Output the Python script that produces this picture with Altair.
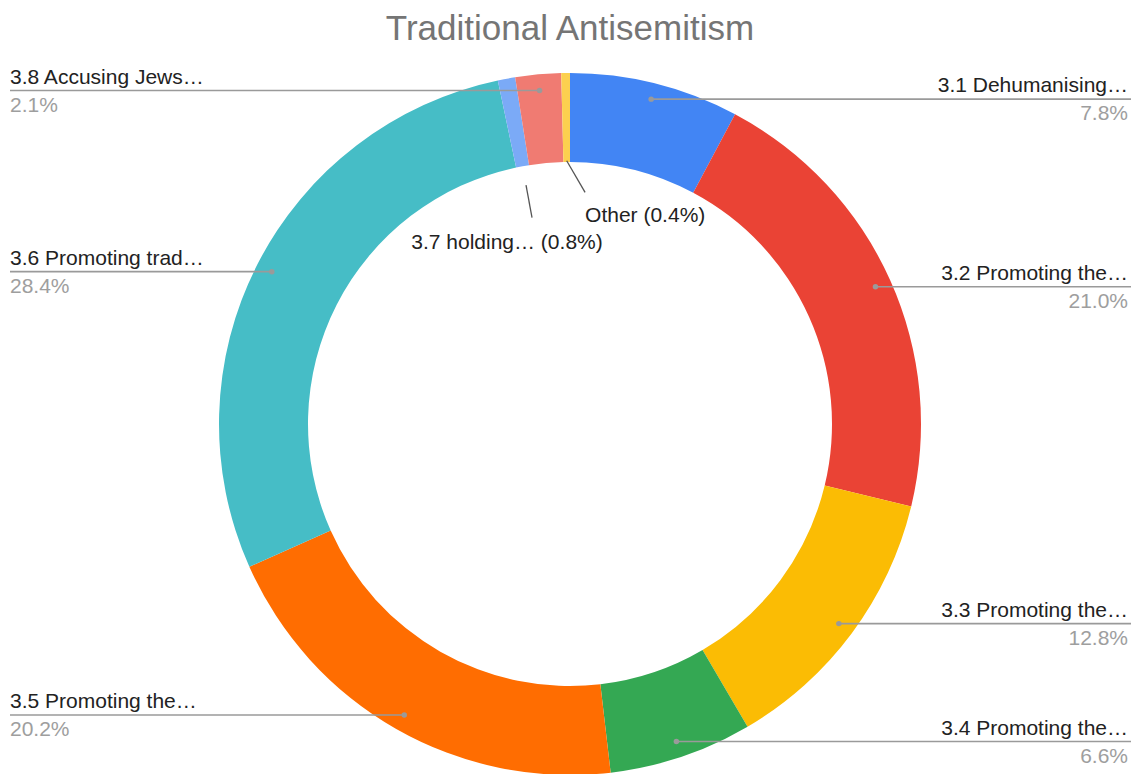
import altair as alt
import pandas as pd

# ---- data ----
title_text = "Traditional Antisemitism"
labels = [
    "3.1 Dehumanising…",
    "3.2 Promoting the…",
    "3.3 Promoting the…",
    "3.4 Promoting the…",
    "3.5 Promoting the…",
    "3.6 Promoting trad…",
    "3.7 holding…",
    "3.8 Accusing Jews…",
    "Other",
]
values = [7.8, 21.0, 12.8, 6.6, 20.2, 28.4, 0.8, 2.1, 0.4]
colors = ["#4285F4", "#EA4335", "#FBBC04", "#34A853", "#FF6D01",
          "#46BDC6", "#7BAAF7", "#F07B72", "#FCD04F"]

df = pd.DataFrame({"name": labels, "value": values, "order": list(range(len(labels)))})

# ---- layout ----
W, H = 1137, 774
CX, CY = 570, 424
R_OUT, R_IN = 351, 262
FONT = "Liberation Sans"
FS = 21

xs = alt.Scale(domain=[-CX / R_OUT, (W - CX) / R_OUT], range=[0, W], zero=False, nice=False)
ys = alt.Scale(domain=[-(H - CY) / R_OUT, CY / R_OUT], range=[H, 0], zero=False, nice=False)
L_EDGE = (10 - CX) / R_OUT
R_EDGE = (1131 - CX) / R_OUT

arc = alt.Chart(df).mark_arc(radius=R_OUT, radius2=R_IN, stroke=None).encode(
    theta=alt.Theta("value:Q", stack=True),
    order=alt.Order("order:Q"),
    color=alt.Color("name:N", scale=alt.Scale(domain=labels, range=colors), legend=None),
    x=alt.value(CX),
    y=alt.value(CY),
)

title = alt.Chart(df).mark_text(
    font=FONT, fontSize=35, color="#757575", align="center", baseline="alphabetic"
).encode(x=alt.value(CX), y=alt.value(40), text=alt.value(title_text)).transform_filter(
    "datum.order == 0"
)

base = (
    alt.Chart(df)
    .transform_window(cum="sum(value)", sort=[alt.SortField("order")], frame=[None, 0])
    .transform_joinaggregate(total="sum(value)")
    .transform_calculate(
        mid="2*PI*(datum.cum - datum.value/2)/datum.total",
        pct="format(datum.value, '.1f') + '%'",
    )
    .transform_calculate(
        s="sin(datum.mid)",
        c="cos(datum.mid)",
    )
    .transform_calculate(
        dx="datum.s*0.954",
        dy="datum.c*0.954",
        edge=f"datum.s > 0 ? {R_EDGE} : {L_EDGE}",
        inner="datum.value < 1",
        ilabel="datum.name + '  (' + datum.pct + ')'",
    )
)

outside = base.transform_filter("!datum.inner")
X = alt.X("dx:Q", scale=xs, axis=None)
Y = alt.Y("dy:Q", scale=ys, axis=None)

rules = outside.mark_rule(color="#9a9a9a", strokeWidth=1.6).encode(
    x=X, x2="edge:Q", y=Y
)
dots = outside.mark_circle(color="#9a9a9a", opacity=1, size=30).encode(x=X, y=Y)

right = outside.transform_filter("datum.s > 0")
left = outside.transform_filter("datum.s <= 0")
XE = alt.X("edge:Q", scale=xs, axis=None)

r_name = right.mark_text(align="right", baseline="alphabetic", dx=-3, dy=-7,
                         font=FONT, fontSize=FS, color="#222222").encode(x=XE, y=Y, text="name:N")
r_pct = right.mark_text(align="right", baseline="alphabetic", dx=-3, dy=21,
                        font=FONT, fontSize=FS, color="#9e9e9e").encode(x=XE, y=Y, text="pct:N")
l_name = left.mark_text(align="left", baseline="alphabetic", dx=0, dy=-7,
                        font=FONT, fontSize=FS, color="#222222").encode(x=XE, y=Y, text="name:N")
l_pct = left.mark_text(align="left", baseline="alphabetic", dx=0, dy=21,
                       font=FONT, fontSize=FS, color="#9e9e9e").encode(x=XE, y=Y, text="pct:N")

# ---- small slices labelled inside the hole ----
inner = base.transform_filter("datum.inner")
in_left = inner.transform_filter("datum.s <= -0.05").transform_calculate(
    x1="datum.s*0.692", y1="datum.c*0.692", x2="datum.s*0.598", y2="datum.c*0.598"
)
in_right = inner.transform_filter("datum.s > -0.05").transform_calculate(
    x1="datum.s*0.75", y1="datum.c*0.75", x2="datum.s*0.66", y2="datum.c*0.66"
)

il_rule = in_left.mark_rule(color="#555555", strokeWidth=1.3).encode(
    x=alt.X("x1:Q", scale=xs, axis=None), y=alt.Y("y1:Q", scale=ys, axis=None),
    x2="x2:Q", y2="y2:Q")
il_text = in_left.mark_text(align="center", baseline="alphabetic", dx=-25, dy=31,
                            font=FONT, fontSize=FS, color="#222222").encode(
    x=alt.X("x2:Q", scale=xs, axis=None), y=alt.Y("y2:Q", scale=ys, axis=None), text="ilabel:N")
ir_rule = in_right.mark_rule(color="#555555", strokeWidth=1.3, x2Offset=18).encode(
    x=alt.X("x1:Q", scale=xs, axis=None), y=alt.Y("y1:Q", scale=ys, axis=None),
    x2="x2:Q", y2="y2:Q")
ir_text = in_right.mark_text(align="left", baseline="alphabetic", dx=18, dy=30,
                             font=FONT, fontSize=FS, color="#222222").encode(
    x=alt.X("x2:Q", scale=xs, axis=None), y=alt.Y("y2:Q", scale=ys, axis=None), text="ilabel:N")

chart = (
    alt.layer(arc, title, rules, dots, r_name, r_pct, l_name, l_pct,
              il_rule, il_text, ir_rule, ir_text)
    .properties(
        width=W, height=H, padding=0,
        autosize=alt.AutoSizeParams(type="none"),
    )
    .configure_view(stroke=None)
)

chart.save("out.html", embed_options={"renderer": "svg", "actions": False})
